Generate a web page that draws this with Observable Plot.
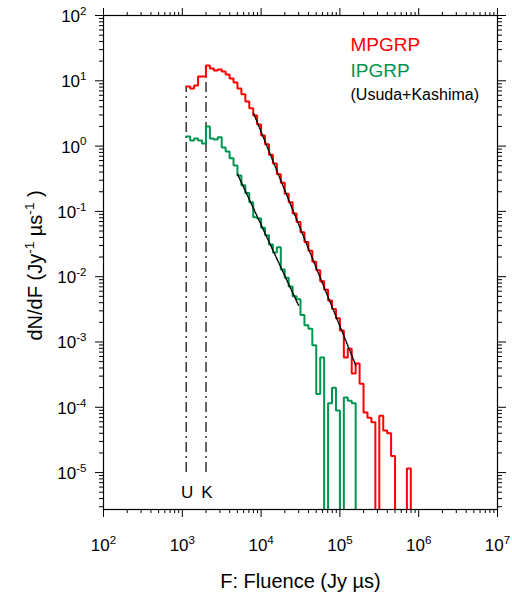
<!DOCTYPE html>
<html><head><meta charset="utf-8">
<script src="https://cdn.jsdelivr.net/npm/d3@7"></script>
<script src="https://cdn.jsdelivr.net/npm/@observablehq/plot@0.6"></script>
<style>
html,body{margin:0;padding:0;background:#fff;}
#chart svg{display:block;}
</style></head><body><div id="chart"></div>
<script>
// Histogram bins: logarithmic, 0.05 dex wide, first bin edge at 10^3.05 Jy µs
const binStartLog = 3.05;
const binWidthLog = 0.05;

// dN/dF per bin (0 = empty bin)
const mpgrpValues = [
  8.2, 7.6, 8.5, 11.6, 11.6, 17.1, 15.4, 14.4, 14.9, 13.9,
  12.5, 10.8, 9.4, 7.6, 6.2, 4.8, 3.8, 2.95, 2.14, 1.45,
  1.07, 0.74, 0.54, 0.37, 0.275, 0.186, 0.138, 0.093, 0.069, 0.048,
  0.034, 0.025, 0.017, 0.0126, 0.0085, 0.0063, 0.0043, 0.0032, 0.0023, 0.0015,
  5.8e-4, 7.9e-4, 3.3e-4, 4.7e-4, 2.3e-4, 8.3e-5, 6.9e-5, 5.9e-5, 0, 7.4e-5,
  4.4e-5, 4.0e-5, 1.8e-5, 0, 0, 0, 1.15e-5, 0
];
const ipgrpValues = [
  1.40, 1.22, 1.31, 1.22, 1.10, 2.00, 1.31, 1.26, 1.36, 0.95,
  0.83, 0.65, 0.505, 0.355, 0.251, 0.191, 0.138, 0.081, 0.078, 0.056,
  0.043, 0.031, 0.0234, 0.0282, 0.0129, 0.0096, 0.0071, 0.0050, 0.0045, 0.0026,
  0.0018, 0.0016, 8.9e-4, 1.6e-4, 5.8e-4, 0, 1.15e-4, 2.0e-4, 8.9e-5, 0,
  1.41e-4, 1.26e-4, 1.15e-4
];

// power-law fits (end points)
const mpgrpFitF = [8050, 159000];
const mpgrpFitValues = [3.16, 4.4e-4];
const ipgrpFitF = [5050, 30000];
const ipgrpFitValues = [0.367, 3.6e-3];

// detection thresholds (Usuda, Kashima)
const thresholdLabels = ["U", "K"];
const thresholdF = [1120, 2000];
const thresholdTop = [8.2, 11.6];
const thresholdBottom = 1e-5;
const thresholdLabelY = 5e-6;

const legendNames = ["MPGRP", "IPGRP", "(Usuda+Kashima)"];
const xTitle = "F: Fluence (Jy µs)";
const yTitle = "dN/dF (Jy^{-1} µs^{-1} )";

const xMajor = [1e2, 1e3, 1e4, 1e5, 1e6, 1e7];
const yMajor = [1e-5, 1e-4, 1e-3, 1e-2, 1e-1, 1e0, 1e1, 1e2];
const xDomain = [1e2, 1e7];
const yDomain = [2.72e-6, 100];

const RED = "#ff0000", GREEN = "#009650";
const FLOOR = 1e-12; // empty bins drawn down out of the frame

function steps(values) {
  const pts = values.map((v, i) => ({F: 10 ** (binStartLog + binWidthLog * i), v: v > 0 ? v : FLOOR}));
  pts.push({F: 10 ** (binStartLog + binWidthLog * values.length), v: FLOOR});
  return pts;
}
const mpgrp = steps(mpgrpValues);
const ipgrp = steps(ipgrpValues);
const mpgrpFit = mpgrpFitF.map((F, i) => ({F, v: mpgrpFitValues[i]}));
const ipgrpFit = ipgrpFitF.map((F, i) => ({F, v: ipgrpFitValues[i]}));
const thresholds = thresholdF.map((F, i) => ({F, top: thresholdTop[i], label: thresholdLabels[i]}));

const xMinor = d3.range(2, 7).flatMap(e => d3.range(2, 10).map(k => k * 10 ** e));
const yMinor = d3.range(-6, 2).flatMap(e => d3.range(2, 10).map(k => k * 10 ** e)).filter(v => v >= yDomain[0]);
const expFmt = d => `10^{${Math.round(Math.log10(d))}}`;
const none = () => "";

const chart = Plot.plot({
  width: 512, height: 599,
  marginLeft: 103, marginRight: 15, marginTop: 15, marginBottom: 90,
  x: {type: "log", domain: xDomain},
  y: {type: "log", domain: yDomain},
  style: {fontFamily: "'Liberation Sans', Arial, sans-serif", color: "black", background: "white"},
  marks: [
    // ticks on all four sides (outward)
    Plot.axisX(xMajor, {anchor: "bottom", tickSize: 8, tickFormat: none, label: null, strokeWidth: 1}),
    Plot.axisX(xMinor, {anchor: "bottom", tickSize: 4, tickFormat: none, label: null, strokeWidth: 1}),
    Plot.axisX(xMajor, {anchor: "top", tickSize: 8, tickFormat: none, label: null, strokeWidth: 1}),
    Plot.axisX(xMinor, {anchor: "top", tickSize: 4, tickFormat: none, label: null, strokeWidth: 1}),
    Plot.axisY(yMajor, {anchor: "left", tickSize: 8, tickFormat: none, label: null, strokeWidth: 1}),
    Plot.axisY(yMinor, {anchor: "left", tickSize: 4, tickFormat: none, label: null, strokeWidth: 1}),
    Plot.axisY(yMajor, {anchor: "right", tickSize: 8, tickFormat: none, label: null, strokeWidth: 1}),
    Plot.axisY(yMinor, {anchor: "right", tickSize: 4, tickFormat: none, label: null, strokeWidth: 1}),
    // tick labels
    Plot.text(xMajor, {x: d => d, frameAnchor: "bottom", dy: 36, lineAnchor: "middle", text: expFmt, fontSize: 17}),
    Plot.text(yMajor, {y: d => d, frameAnchor: "left", dx: -17, dy: 1, textAnchor: "end", lineAnchor: "middle", text: expFmt, fontSize: 17}),
    // axis titles
    Plot.text([xTitle], {frameAnchor: "bottom", dy: 72, lineAnchor: "middle", fontSize: 20}),
    Plot.text([yTitle], {frameAnchor: "left", dx: -68, dy: 78, rotate: -90, textAnchor: "start", lineAnchor: "middle", fontSize: 20}),
    // thresholds
    Plot.ruleX(thresholds, {x: "F", y1: thresholdBottom, y2: "top", stroke: "black", strokeWidth: 1.2, strokeDasharray: "10,4,2,4"}),
    Plot.text(thresholds, {x: "F", y: thresholdLabelY, text: "label", dx: 1, lineAnchor: "middle", fontSize: 17}),
    // histograms
    Plot.line(ipgrp, {x: "F", y: "v", curve: "step-after", stroke: GREEN, strokeWidth: 2, clip: true, strokeLinejoin: "miter"}),
    Plot.line(mpgrp, {x: "F", y: "v", curve: "step-after", stroke: RED, strokeWidth: 2, clip: true, strokeLinejoin: "miter"}),
    // fits
    Plot.line(ipgrpFit, {x: "F", y: "v", stroke: "black", strokeWidth: 1.5, strokeDasharray: "1.2,1.4"}),
    Plot.line(mpgrpFit, {x: "F", y: "v", stroke: "black", strokeWidth: 1.5, strokeDasharray: "1.2,1.4"}),
    // legend
    Plot.text([legendNames[0]], {frameAnchor: "top-left", dx: 247, dy: 29, textAnchor: "start", lineAnchor: "middle", fill: RED, fontSize: 19}),
    Plot.text([legendNames[1]], {frameAnchor: "top-left", dx: 247, dy: 55, textAnchor: "start", lineAnchor: "middle", fill: GREEN, fontSize: 19}),
    Plot.text([legendNames[2]], {frameAnchor: "top-left", dx: 247, dy: 79, textAnchor: "start", lineAnchor: "middle", fill: "black", fontSize: 16}),
    Plot.frame({stroke: "black", strokeWidth: 1.2})
  ]
});

// superscripts: "a^{b}c"
d3.select(chart).selectAll("text").each(function() {
  const t = this.textContent;
  if (!t.includes("^{")) return;
  const host = this.closest("[font-size]");
  const fs = parseFloat(host ? host.getAttribute("font-size") : 10);
  const parts = t.split(/\^\{([^}]*)\}/);
  const sel = d3.select(this);
  sel.text(null);
  let raised = false;
  parts.forEach((p, i) => {
    if (p === "") return;
    const ts = sel.append("tspan").text(p);
    if (i % 2 === 1) { ts.attr("font-size", fs * 0.68).attr("dy", -fs * 0.42); raised = true; }
    else if (raised) { ts.attr("dy", fs * 0.42); raised = false; }
  });
});
document.getElementById("chart").append(chart);
</script>
</body></html>
